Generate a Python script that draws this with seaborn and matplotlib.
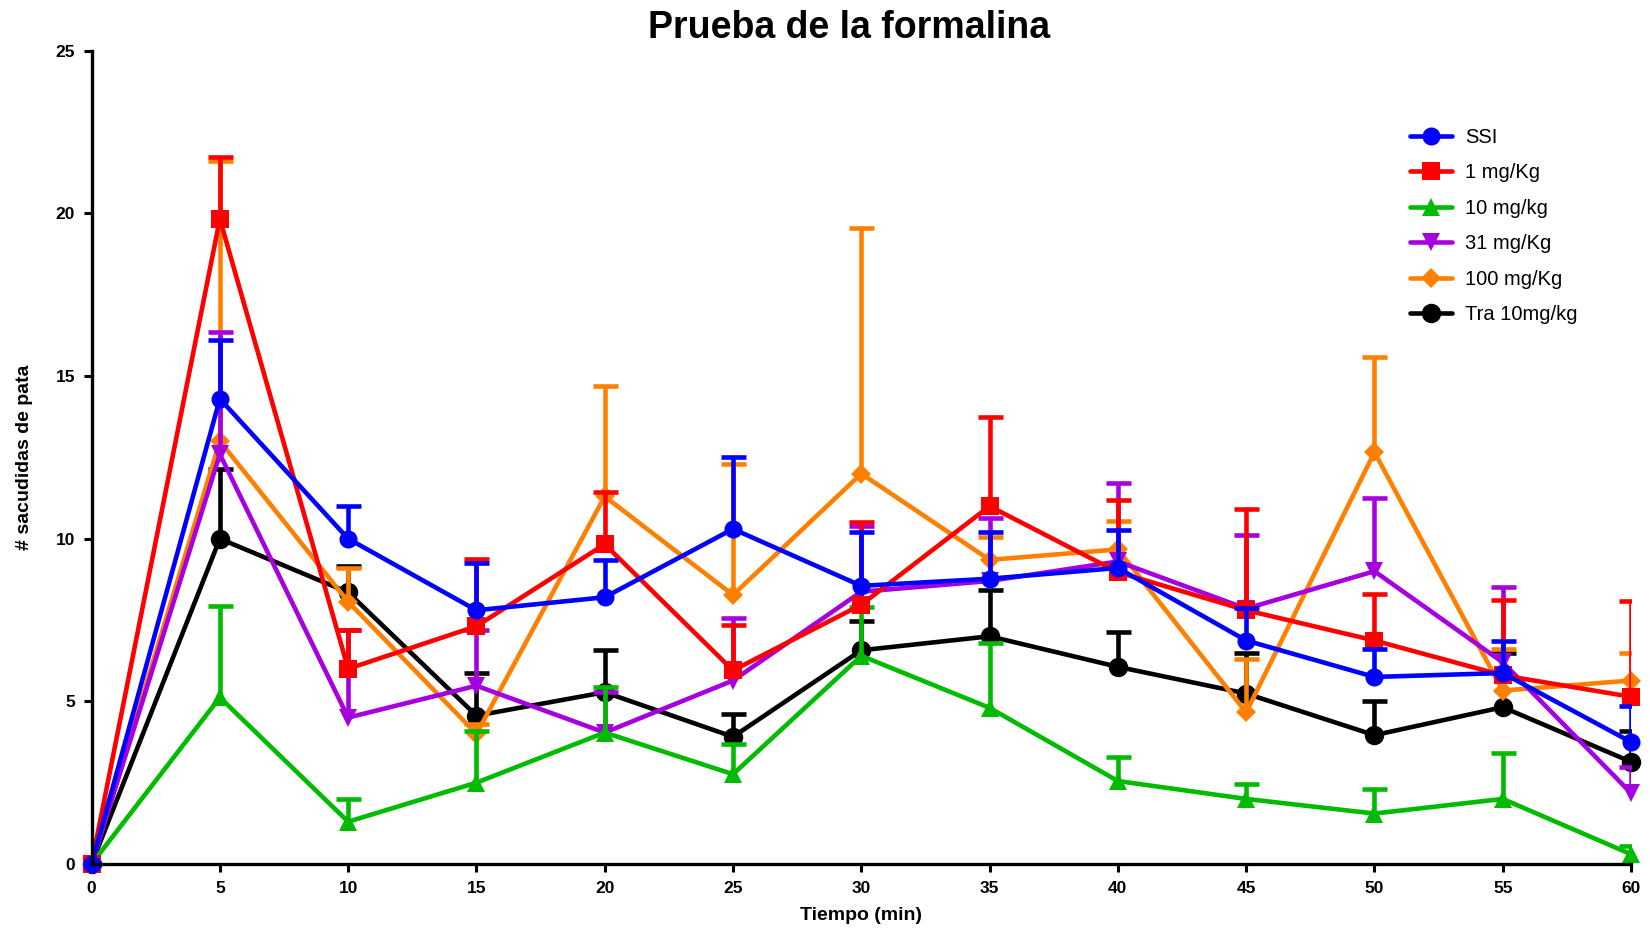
import matplotlib
matplotlib.use("Agg")
import matplotlib.pyplot as plt
import numpy as np
import pandas as pd
import seaborn as sns

# --- data ---
tiempo = [0, 5, 10, 15, 20, 25, 30, 35, 40, 45, 50, 55, 60]
grupos = ["SSI", "1 mg/Kg", "10 mg/kg", "31 mg/Kg", "100 mg/Kg", "Tra 10mg/kg"]

ssi = [0, 14.3, 10.0, 7.8, 8.2, 10.3, 8.55, 8.77, 9.1, 6.87, 5.75, 5.87, 3.75]
ssi_err = [0, 1.8, 1.0, 1.46, 1.15, 2.2, 1.65, 1.43, 1.16, 1.0, 0.85, 0.97, 1.11]

mg1 = [0, 19.83, 6.0, 7.31, 9.83, 5.95, 7.97, 11.0, 8.97, 7.8, 6.87, 5.8, 5.14]
mg1_err = [0, 1.9, 1.2, 2.07, 1.62, 1.4, 2.53, 2.73, 2.23, 3.1, 1.42, 2.32, 2.93]

mg10 = [0, 5.12, 1.3, 2.5, 4.04, 2.76, 6.4, 4.8, 2.55, 2.0, 1.55, 2.0, 0.3]
mg10_err = [0, 2.8, 0.7, 1.58, 1.4, 0.92, 1.5, 2.0, 0.75, 0.46, 0.75, 1.4, 0.25]

mg31 = [0, 12.6, 4.5, 5.48, 4.04, 5.64, 8.37, 8.7, 9.3, 7.85, 9.0, 6.2, 2.18]
mg31_err = [0, 3.74, 2.7, 1.7, 1.26, 1.93, 2.03, 1.95, 2.4, 2.25, 2.24, 2.3, 0.8]

mg100 = [0, 13.0, 8.06, 4.0, 11.3, 8.27, 12.0, 9.35, 9.67, 4.66, 12.66, 5.33, 5.64]
mg100_err = [0, 8.6, 1.04, 0.3, 3.4, 4.03, 7.55, 0.7, 0.88, 1.64, 2.94, 1.27, 0.86]

tra = [0, 10.0, 8.35, 4.56, 5.28, 3.91, 6.57, 7.0, 6.06, 5.24, 3.96, 4.82, 3.14]
tra_err = [0, 2.15, 0.8, 1.31, 1.29, 0.69, 0.9, 1.41, 1.07, 1.26, 1.04, 1.68, 0.95]

medias = [ssi, mg1, mg10, mg31, mg100, tra]
errores = [ssi_err, mg1_err, mg10_err, mg31_err, mg100_err, tra_err]

colores = ["#0000FF", "#FF0000", "#00BB00", "#A600DE", "#FF8000", "#000000"]
marcadores = ["o", "s", "^", "v", "D", "o"]
tamanos = [13, 13, 13, 13, 10, 14]


def main():
    sns.set_style("ticks")
    plt.rcParams["font.family"] = ["Liberation Sans", "DejaVu Sans"]
    plt.rcParams["text.color"] = "black"
    plt.rcParams["axes.labelcolor"] = "black"
    plt.rcParams["xtick.color"] = "black"
    plt.rcParams["ytick.color"] = "black"

    df = pd.concat(
        [pd.DataFrame({"Tiempo": tiempo, "Valor": m, "Err": e, "Grupo": g})
         for g, m, e in zip(grupos, medias, errores)],
        ignore_index=True,
    )

    fig = plt.figure(figsize=(16.5, 9.39), dpi=100)
    ax = fig.add_axes([0.0555, 0.0799, 0.933, 0.866])

    n = len(grupos)
    for i, g in enumerate(grupos):
        sub = df[df["Grupo"] == g]
        z = 10 + (n - i) * 2  # first series on top, like the original
        sns.lineplot(
            data=sub, x="Tiempo", y="Valor", ax=ax, color=colores[i],
            marker=marcadores[i], markersize=tamanos[i], markeredgewidth=0,
            linewidth=3.3, label=g, zorder=z, clip_on=False,
        )
        con_err = sub[sub["Err"] > 0]
        _, caps, _ = ax.errorbar(
            con_err["Tiempo"], con_err["Valor"],
            yerr=[np.zeros(len(con_err)), con_err["Err"]],
            fmt="none", ecolor=colores[i], elinewidth=3.3, capsize=9,
            capthick=3.3, zorder=z - 1,
        )
        caps[0].set_visible(False)  # only the upper cap, as in the original

    ax.set_xlim(0, 60)
    ax.set_ylim(0, 25)
    ax.set_xticks(tiempo)
    ax.set_yticks([0, 5, 10, 15, 20, 25])
    ax.tick_params(direction="out", length=6, width=2.2, labelsize=12.5, pad=6)
    for lab in ax.get_xticklabels() + ax.get_yticklabels():
        lab.set_fontweight("bold")
    sns.despine(ax=ax)
    for s in ("left", "bottom"):
        ax.spines[s].set_linewidth(2.4)
        ax.spines[s].set_color("black")
        ax.spines[s].set_zorder(30)

    ax.set_xlabel("Tiempo (min)", fontsize=14, fontweight="bold", labelpad=8)
    ax.set_ylabel("# sacudidas de pata", fontsize=14, fontweight="bold", labelpad=16)
    ax.set_title("Prueba de la formalina", fontsize=27, fontweight="bold",
                 x=0.492, pad=9)

    ax.legend(loc="upper left", bbox_to_anchor=(0.851, 0.9155), frameon=False,
              fontsize=14.5, handlelength=2.1, labelspacing=0.82,
              handletextpad=0.65, borderaxespad=0)

    fig.savefig("out.png", dpi=100)


if __name__ == "__main__":
    main()
